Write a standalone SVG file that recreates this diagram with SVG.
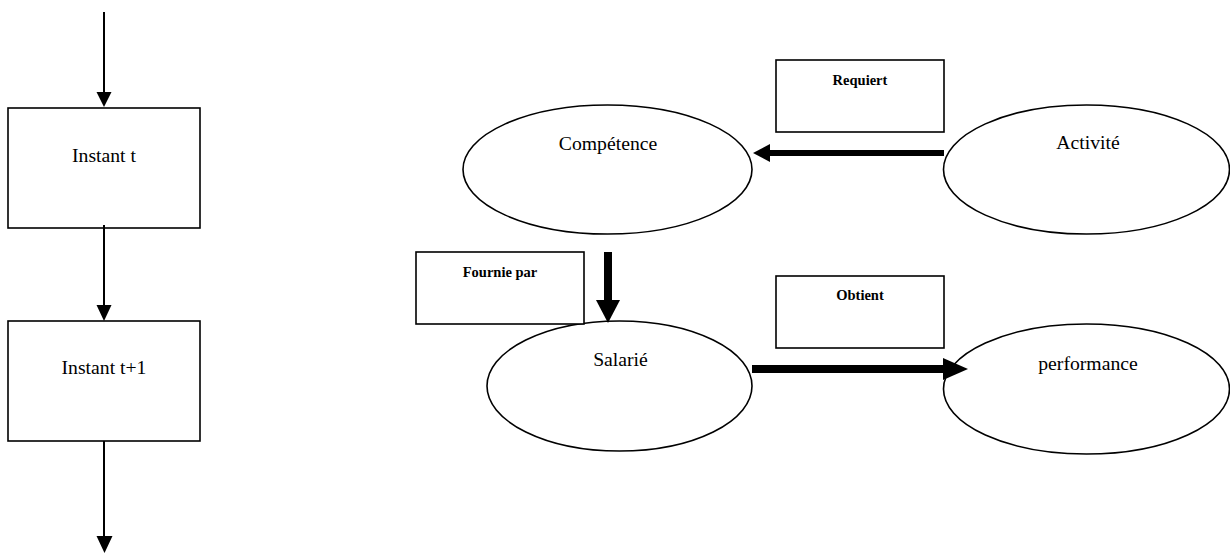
<svg xmlns="http://www.w3.org/2000/svg" width="1230" height="555" viewBox="0 0 1230 555">
<style>
.box{fill:#fff;stroke:#000;stroke-width:1.6}
.ell{fill:#fff;stroke:#000;stroke-width:1.6}
.t{font-family:'Liberation Serif','Times New Roman','DejaVu Serif',serif;font-size:19.7px;fill:#000;text-anchor:middle}
.lb{font-family:'Liberation Serif','Times New Roman','DejaVu Serif',serif;font-size:14.5px;font-weight:bold;fill:#000;text-anchor:middle}
.thin{stroke:#000;stroke-width:2;fill:none}
.head{fill:#000;stroke:none}
</style>
<rect width="1230" height="555" fill="#fff"/>
<g id="instant-t"><rect class="box" x="8" y="108" width="192" height="120"/><text class="t" x="104" y="162">Instant t</text></g>
<g id="instant-t1"><rect class="box" x="8" y="321" width="192" height="120"/><text class="t" x="104" y="374">Instant t+1</text></g>
<g id="competence"><ellipse class="ell" cx="607.5" cy="169.5" rx="144.5" ry="64.5"/><text class="t" x="608" y="150">Compétence</text></g>
<g id="activite"><ellipse class="ell" cx="1086.5" cy="169.5" rx="143" ry="64.5"/><text class="t" x="1088" y="149">Activité</text></g>
<g id="salarie"><ellipse class="ell" cx="619.5" cy="386" rx="132.5" ry="65"/><text class="t" x="620.5" y="366">Salarié</text></g>
<g id="performance"><ellipse class="ell" cx="1086.5" cy="389" rx="143" ry="65"/><text class="t" x="1088" y="370">performance</text></g>
<g id="requiert"><rect class="box" x="776" y="60" width="168" height="72"/><text class="lb" x="860" y="85">Requiert</text></g>
<g id="fournie-par"><rect class="box" x="416" y="252" width="168" height="72"/><text class="lb" x="500" y="277">Fournie par</text></g>
<g id="obtient"><rect class="box" x="776" y="276" width="168" height="72"/><text class="lb" x="860" y="300">Obtient</text></g>
<g id="connectors">
<line class="thin" x1="104" y1="12" x2="104" y2="93"/>
<polygon class="head" points="96.5,92 111.5,92 104,107"/>
<line class="thin" x1="104" y1="225" x2="104" y2="306"/>
<polygon class="head" points="96.5,305 111.5,305 104,321"/>
<line class="thin" x1="104" y1="441" x2="104" y2="537"/>
<polygon class="head" points="96.5,536 112.5,536 104.5,553"/>
<line x1="944" y1="153" x2="769" y2="153" stroke="#000" stroke-width="6"/>
<polygon class="head" points="770,144 770,162 753,153"/>
<line x1="608" y1="252" x2="608" y2="301" stroke="#000" stroke-width="8"/>
<polygon class="head" points="596,300 620,300 608,323"/>
<line x1="752" y1="369" x2="944" y2="369" stroke="#000" stroke-width="8"/>
<polygon class="head" points="943,358 943,380 968,369"/>
</g>
</svg>
